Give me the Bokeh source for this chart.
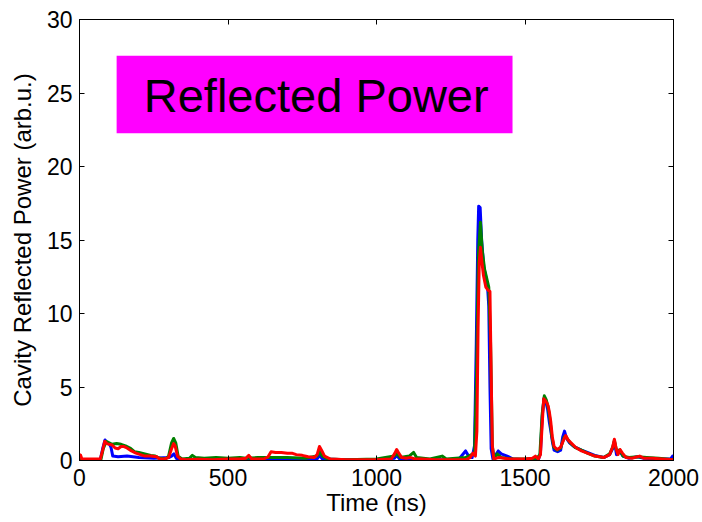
from bokeh.plotting import figure
from bokeh.models import Range1d, LinearAxis, FixedTicker, BoxAnnotation, Label, ColumnDataSource
from bokeh.embed import file_html
from bokeh.resources import INLINE

# ---------------- data ----------------
x_ticks = [0, 500, 1000, 1500, 2000]
y_ticks = [0, 5, 10, 15, 20, 25, 30]

t_blue = [0, 70, 78, 86, 92, 100, 106, 112, 130, 160, 200, 250, 300, 310, 318, 326, 340, 400, 500,
          600, 700, 800, 808, 818, 900, 1000, 1060, 1068, 1078, 1150, 1250, 1280, 1300, 1310, 1322,
          1330, 1336, 1341, 1344, 1349, 1354, 1361, 1368, 1374, 1378, 1382, 1386, 1392, 1402, 1410,
          1420, 1440, 1460, 1500, 1545, 1552, 1558, 1564, 1570, 1576, 1582, 1587, 1592, 1598, 1610,
          1620, 1627, 1633, 1640, 1650, 1665, 1690, 1710, 1735, 1765, 1785, 1795, 1801, 1808, 1820,
          1830, 1850, 1880, 1900, 1950, 1990, 1997, 2000]
p_blue = [0.05, 0.05, 0.8, 1.4, 1.2, 1.15, 0.9, 0.3, 0.25, 0.3, 0.2, 0.15, 0.2, 0.3, 0.45, 0.15, 0.05,
          0.05, 0.05, 0.05, 0.05, 0.1, 0.35, 0.1, 0.05, 0.05, 0.15, 0.35, 0.1, 0.05, 0.05, 0.15, 0.65,
          0.3, 0.2, 1.0, 8.0, 15.0, 17.3, 17.2, 15.0, 13.2, 12.5, 11.8, 10.5, 5.0, 0.8, 0.1, 0.4,
          0.65, 0.45, 0.3, 0.1, 0.05, 0.05, 0.5, 3.0, 4.2, 4.0, 3.5, 2.6, 2.0, 1.3, 0.7, 0.6, 0.7,
          1.6, 2.0, 1.5, 1.2, 0.95, 0.7, 0.55, 0.35, 0.2, 0.4, 0.8, 1.3, 0.4, 0.6, 0.3, 0.15, 0.25,
          0.15, 0.1, 0.1, 0.3, 0.2]

t_green = [0, 72, 80, 90, 100, 110, 125, 140, 155, 170, 185, 200, 220, 240, 255, 270, 290, 300, 310,
           317, 324, 332, 345, 370, 380, 390, 420, 460, 500, 540, 560, 600, 640, 700, 760, 800, 808,
           818, 835, 900, 1000, 1060, 1068, 1080, 1110, 1125, 1135, 1180, 1221, 1235, 1300, 1315,
           1330, 1337, 1343, 1350, 1356, 1364, 1370, 1378, 1384, 1390, 1396, 1406, 1420, 1460, 1500,
           1540, 1550, 1558, 1565, 1572, 1578, 1584, 1590, 1597, 1608, 1620, 1632, 1640, 1652, 1668,
           1690, 1710, 1735, 1765, 1785, 1795, 1801, 1808, 1820, 1830, 1850, 1880, 1910, 1950, 2000]
p_green = [0.05, 0.05, 0.8, 1.3, 1.2, 1.1, 1.15, 1.1, 1.0, 0.85, 0.6, 0.55, 0.45, 0.35, 0.3, 0.15,
           0.1, 0.3, 1.2, 1.5, 1.2, 0.3, 0.1, 0.15, 0.35, 0.2, 0.15, 0.2, 0.15, 0.2, 0.15, 0.2, 0.2,
           0.2, 0.15, 0.3, 0.6, 0.3, 0.1, 0.05, 0.1, 0.3, 0.5, 0.2, 0.3, 0.55, 0.2, 0.1, 0.3, 0.1,
           0.2, 0.35, 0.5, 6.0, 14.0, 16.2, 14.3, 13.0, 12.5, 11.8, 8.0, 1.0, 0.1, 0.45, 0.2, 0.1,
           0.1, 0.15, 0.4, 3.2, 4.4, 4.1, 3.6, 2.8, 1.7, 0.9, 0.7, 0.85, 1.6, 1.55, 1.2, 0.9, 0.7,
           0.5, 0.3, 0.2, 0.45, 0.9, 1.35, 0.7, 0.7, 0.3, 0.2, 0.25, 0.2, 0.15, 0.05]

t_red = [0, 4, 8, 70, 78, 85, 92, 100, 110, 120, 130, 140, 150, 160, 175, 190, 205, 220, 240, 260,
         270, 285, 300, 310, 317, 322, 330, 340, 360, 400, 450, 500, 540, 560, 570, 580, 620, 635,
         645, 660, 680, 700, 715, 730, 750, 770, 790, 800, 808, 815, 825, 845, 900, 950, 1000, 1050,
         1062, 1068, 1075, 1085, 1100, 1115, 1130, 1150, 1200, 1250, 1300, 1315, 1325, 1333, 1338,
         1342, 1346, 1350, 1355, 1360, 1368, 1375, 1382, 1386, 1390, 1395, 1410, 1450, 1500, 1525,
         1535, 1545, 1552, 1558, 1563, 1568, 1574, 1578, 1582, 1587, 1592, 1598, 1608, 1620, 1630,
         1637, 1645, 1655, 1670, 1690, 1710, 1735, 1765, 1785, 1795, 1801, 1807, 1813, 1820, 1828,
         1840, 1860, 1886, 1900, 1930, 1960, 2000]
p_red = [0.4, 0.35, 0.1, 0.1, 0.7, 1.3, 1.15, 1.1, 1.05, 0.85, 0.8, 0.95, 0.95, 0.85, 0.65, 0.5,
         0.4, 0.3, 0.3, 0.25, 0.1, 0.1, 0.2, 0.8, 1.15, 1.0, 0.3, 0.1, 0.05, 0.08, 0.05, 0.1, 0.1,
         0.15, 0.35, 0.1, 0.1, 0.25, 0.6, 0.55, 0.55, 0.5, 0.5, 0.4, 0.35, 0.25, 0.2, 0.4, 0.95,
         0.7, 0.3, 0.1, 0.05, 0.05, 0.05, 0.1, 0.5, 0.75, 0.5, 0.2, 0.15, 0.2, 0.1, 0.1, 0.05, 0.05,
         0.05, 0.2, 0.5, 0.3, 2.0, 9.0, 13.5, 14.5, 13.5, 12.6, 11.8, 11.6, 11.5, 6.0, 1.0, 0.1,
         0.2, 0.1, 0.1, 0.15, 0.3, 0.1, 0.4, 2.5, 4.2, 4.1, 3.9, 3.7, 3.3, 2.6, 1.6, 0.95, 0.75,
         0.9, 1.4, 1.7, 1.4, 1.2, 0.9, 0.65, 0.5, 0.3, 0.2, 0.4, 0.9, 1.45, 0.8, 0.4, 0.75, 0.5,
         0.2, 0.15, 0.3, 0.15, 0.15, 0.1, 0.05]

title_text = "Reflected Power"
x_label = "Time (ns)"
y_label = "Cavity Reflected Power (arb.u.)"

# ---------------- figure ----------------
FONT = "Liberation Sans"

p = figure(width=702, height=522, output_backend="svg", toolbar_location=None,
           x_range=Range1d(0, 2000), y_range=Range1d(0, 30),
           x_axis_label=x_label, y_axis_label=y_label,
           min_border_left=79, min_border_right=29, min_border_top=19, min_border_bottom=62)

p.background_fill_color = "white"
p.border_fill_color = "white"
p.outline_line_color = "black"
p.xgrid.grid_line_color = None
p.ygrid.grid_line_color = None

for ax, ticks in ((p.xaxis[0], x_ticks), (p.yaxis[0], y_ticks)):
    ax.ticker = FixedTicker(ticks=ticks)
    ax.major_tick_in = 5
    ax.major_tick_out = 0
    ax.minor_tick_line_color = None
    ax.axis_line_color = "black"
    ax.major_tick_line_color = "black"
    ax.major_label_text_font = FONT
    ax.major_label_text_font_size = "23px"
    ax.major_label_text_color = "black"
    ax.axis_label_text_font = FONT
    ax.axis_label_text_font_size = "24px"
    ax.axis_label_text_font_style = "normal"
    ax.axis_label_text_color = "black"

p.xaxis[0].major_label_standoff = 8
p.xaxis[0].axis_label_standoff = 0
p.yaxis[0].major_label_standoff = 7
p.yaxis[0].axis_label_standoff = 8

right_ax = LinearAxis(ticker=FixedTicker(ticks=y_ticks), major_tick_in=5, major_tick_out=0,
                      minor_tick_line_color=None,
                      major_label_overrides={t: "" for t in y_ticks},
                      major_label_standoff=0, axis_line_color="black")
top_ax = LinearAxis(ticker=FixedTicker(ticks=x_ticks), major_tick_in=5, major_tick_out=0,
                    minor_tick_line_color=None,
                    major_label_overrides={t: "" for t in x_ticks},
                    major_label_standoff=0, axis_line_color="black")
p.add_layout(right_ax, "right")
p.add_layout(top_ax, "above")

for t, v, c in ((t_blue, p_blue, "#0000ff"), (t_green, p_green, "#008000"), (t_red, p_red, "#ff0000")):
    src = ColumnDataSource(data=dict(t=t, v=v))
    p.line("t", "v", source=src, line_color=c, line_width=3, line_join="round")

box = BoxAnnotation(left=125, right=1458, bottom=22.27, top=27.54,
                    fill_color="#ff00ff", fill_alpha=1.0, line_color=None)
p.add_layout(box)
lbl = Label(x=797, y=24.85, text=title_text, text_align="center", text_baseline="middle",
            text_font=FONT, text_font_size="47px", text_color="black")
p.add_layout(lbl)

open("out.html", "w").write(file_html(p, INLINE))
